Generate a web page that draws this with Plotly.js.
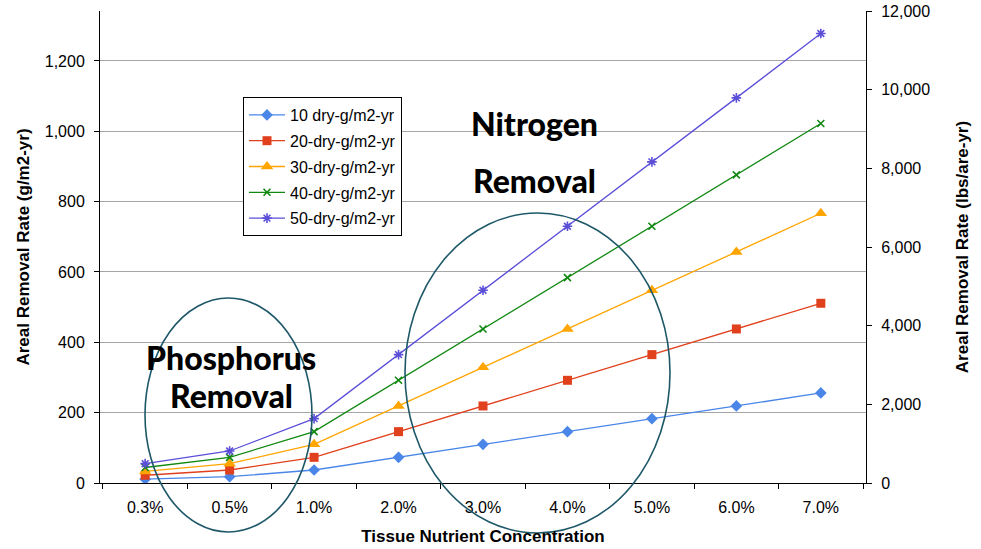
<!DOCTYPE html>
<html>
<head>
<meta charset="utf-8">
<script src="https://cdn.plot.ly/plotly-3.0.1.min.js"></script>
<style>html,body{margin:0;padding:0;background:#fff;}#chart{width:981px;height:549px;}</style>
</head>
<body>
<div id="chart"></div>
<script>
const categories = ["0.3%", "0.5%", "1.0%", "2.0%", "3.0%", "4.0%", "5.0%", "6.0%", "7.0%"];
const seriesNames = ["10 dry-g/m2-yr", "20-dry-g/m2-yr", "30-dry-g/m2-yr", "40-dry-g/m2-yr", "50-dry-g/m2-yr"];
const s10 = [11, 18, 37, 73, 110, 146, 183, 219, 256];
const s20 = [22, 37, 73, 146, 219, 292, 365, 438, 511];
const s30 = [33, 55, 110, 219, 329, 438, 548, 657, 767];
const s40 = [44, 73, 146, 292, 438, 584, 730, 876, 1022];
const s50 = [55, 91, 183, 365, 548, 730, 913, 1095, 1278];
const leftTicks = [0, 200, 400, 600, 800, 1000, 1200];
const rightTicks = [0, 2000, 4000, 6000, 8000, 10000, 12000];

const colors = ["#4a86e8", "#e0401c", "#ffa500", "#118811", "#5b4fd8"];
const symbols = ["diamond", "square", "triangle-up", "x-thin-open", "asterisk-open"];
const sizes = [9, 9, 11, 7, 8];
const allSeries = [s10, s20, s30, s40, s50];

const traces = allSeries.map((vals, i) => ({
  x: categories, y: vals, type: "scatter", mode: "lines+markers",
  name: seriesNames[i], legendgroup: "g" + i,
  line: {color: colors[i], width: 1.3},
  marker: {symbol: symbols[i], size: sizes[i], color: colors[i], line: {color: colors[i], width: (i >= 3 ? 1.6 : 0)}}
}));
traces.push({x: categories, y: categories.map(() => null), yaxis: "y2", type: "scatter", mode: "none", showlegend: false, hoverinfo: "skip"});

const ellColor = "#1e5868";
const bigFont = {family: "Lato, sans-serif", size: 32, weight: 900, color: "#000"};
const W = 766, H = 472;
const px = v => (v - 100) / W, py = v => (483 - v) / H;
const layout = {
  width: 981, height: 549,
  margin: {l: 100, r: 115, t: 11, b: 66},
  paper_bgcolor: "#fff", plot_bgcolor: "#fff",
  font: {family: "Arial, Liberation Sans, sans-serif", size: 16, color: "#000"},
  separators: ".,",
  showlegend: true,
  legend: {x: px(243), y: py(97), xanchor: "left", yanchor: "top", bgcolor: "#fff",
           bordercolor: "#000", borderwidth: 1, font: {size: 16}, tracegroupgap: 2, itemwidth: 36},
  xaxis: {type: "category", tickvals: categories, showline: true, linecolor: "#000", linewidth: 1,
          ticks: "outside", ticklen: 5, tickcolor: "#000", tickson: "boundaries", ticklabelstandoff: 10,
          showgrid: false, zeroline: false, tickfont: {size: 16},
          title: {text: "<b>Tissue Nutrient Concentration</b>", font: {size: 17}, standoff: 14}},
  yaxis: {range: [0, 1342], tickvals: leftTicks, tickformat: ",d", showline: true, linecolor: "#000",
          ticks: "outside", ticklen: 5, tickcolor: "#000", ticklabelstandoff: 6,
          showgrid: true, gridcolor: "#a6a6a6", gridwidth: 1,
          zeroline: false, tickfont: {size: 16},
          title: {text: "<b>Areal Removal Rate (g/m2-yr)</b>", font: {size: 17}, standoff: 10}},
  yaxis2: {overlaying: "y", side: "right", range: [0, 12000], tickvals: rightTicks, tickformat: ",d",
           showline: true, linecolor: "#000", ticks: "outside", ticklen: 5, tickcolor: "#000", ticklabelstandoff: 6,
           showgrid: false, zeroline: false, tickfont: {size: 16},
           title: {text: "<b>Areal Removal Rate (lbs/are-yr)</b>", font: {size: 17}, standoff: 26}},
  shapes: [
    {type: "circle", xref: "paper", yref: "paper", x0: px(145), x1: px(312),
     y0: py(532), y1: py(298), line: {color: ellColor, width: 1.6}},
    {type: "circle", xref: "paper", yref: "paper", x0: px(405), x1: px(670),
     y0: py(533), y1: py(213), line: {color: ellColor, width: 1.6}}
  ],
  annotations: [
    {text: "Nitrogen", x: px(534), y: py(123)},
    {text: "Removal", x: px(534), y: py(180)},
    {text: "Phosphorus", x: px(231), y: py(357)},
    {text: "Removal", x: px(231), y: py(396)}
  ].map(a => Object.assign(a, {xref: "paper", yref: "paper", xanchor: "center", yanchor: "middle",
                               showarrow: false, font: bigFont}))
};
Plotly.newPlot("chart", traces, layout, {displayModeBar: false, staticPlot: true});
</script>
</body>
</html>
